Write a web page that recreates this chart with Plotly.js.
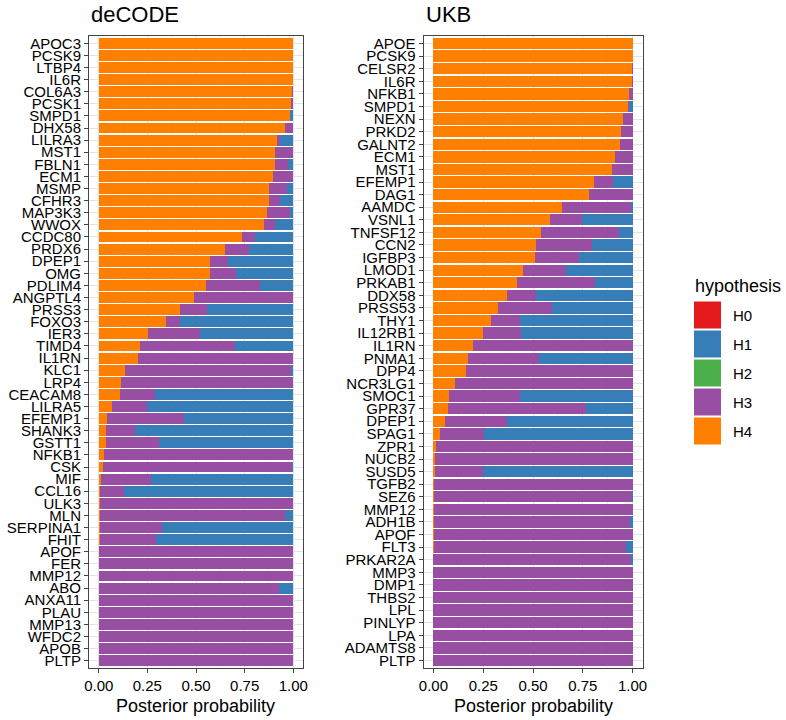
<!DOCTYPE html>
<html>
<head>
<meta charset="utf-8">
<script src="https://cdn.plot.ly/plotly-3.0.1.min.js"></script>
<style>
html,body{margin:0;padding:0;background:#fff;}
#chart{width:786px;height:720px;}
</style>
</head>
<body>
<div id="chart"></div>
<script>
// ---------- DATA ----------
const hypotheses = ["H0", "H1", "H2", "H3", "H4"];
const hypColors = ["#E41A1C", "#377EB8", "#4DAF4A", "#984EA3", "#FF7F00"];

const decodeGenes = ["APOC3","PCSK9","LTBP4","IL6R","COL6A3","PCSK1","SMPD1","DHX58","LILRA3","MST1",
  "FBLN1","ECM1","MSMP","CFHR3","MAP3K3","WWOX","CCDC80","PRDX6","DPEP1","OMG",
  "PDLIM4","ANGPTL4","PRSS3","FOXO3","IER3","TIMD4","IL1RN","KLC1","LRP4","CEACAM8",
  "LILRA5","EFEMP1","SHANK3","GSTT1","NFKB1","CSK","MIF","CCL16","ULK3","MLN",
  "SERPINA1","FHIT","APOF","FER","MMP12","ABO","ANXA11","PLAU","MMP13","WFDC2",
  "APOB","PLTP"];
const decodeH4 = [1.000,1.000,0.999,0.997,0.993,0.990,0.981,0.959,0.918,0.906,
  0.905,0.898,0.876,0.874,0.867,0.849,0.736,0.648,0.574,0.573,
  0.551,0.488,0.418,0.347,0.253,0.213,0.201,0.136,0.116,0.111,
  0.066,0.041,0.037,0.036,0.026,0.020,0.010,0.009,0.007,0.005,
  0.004,0.004,0.001,0.001,0.001,0.000,0.000,0.000,0.000,0.000,
  0.000,0.000];
const decodeH3 = [0.000,0.000,0.001,0.002,0.004,0.007,0.002,0.041,0.015,0.094,
  0.068,0.102,0.094,0.060,0.117,0.058,0.066,0.124,0.088,0.134,
  0.276,0.509,0.138,0.071,0.265,0.488,0.799,0.852,0.884,0.179,
  0.184,0.396,0.150,0.272,0.971,0.975,0.257,0.120,0.990,0.952,
  0.321,0.290,0.999,0.999,0.999,0.925,1.000,1.000,1.000,1.000,
  1.000,1.000];
const decodeH1 = [0.000,0.000,0.000,0.001,0.003,0.003,0.017,0.000,0.067,0.000,
  0.027,0.000,0.030,0.066,0.016,0.093,0.198,0.228,0.338,0.293,
  0.173,0.003,0.444,0.582,0.482,0.299,0.000,0.012,0.000,0.710,
  0.750,0.563,0.813,0.692,0.003,0.005,0.733,0.871,0.003,0.043,
  0.675,0.706,0.000,0.000,0.000,0.075,0.000,0.000,0.000,0.000,
  0.000,0.000];

const ukbGenes = ["APOE","PCSK9","CELSR2","IL6R","NFKB1","SMPD1","NEXN","PRKD2","GALNT2","ECM1",
  "MST1","EFEMP1","DAG1","AAMDC","VSNL1","TNFSF12","CCN2","IGFBP3","LMOD1","PRKAB1",
  "DDX58","PRSS53","THY1","IL12RB1","IL1RN","PNMA1","DPP4","NCR3LG1","SMOC1","GPR37",
  "DPEP1","SPAG1","ZPR1","NUCB2","SUSD5","TGFB2","SEZ6","MMP12","ADH1B","APOF",
  "FLT3","PRKAR2A","MMP3","DMP1","THBS2","LPL","PINLYP","LPA","ADAMTS8","PLTP"];
const ukbH4 = [1.000,1.000,0.997,0.997,0.980,0.978,0.950,0.941,0.936,0.913,
  0.895,0.806,0.779,0.645,0.585,0.542,0.515,0.508,0.450,0.421,
  0.370,0.324,0.289,0.247,0.201,0.172,0.164,0.109,0.077,0.074,
  0.059,0.032,0.015,0.008,0.008,0.003,0.002,0.002,0.001,0.001,
  0.001,0.000,0.000,0.000,0.000,0.000,0.000,0.000,0.000,0.000];
const ukbH3 = [0.000,0.000,0.003,0.003,0.020,0.005,0.050,0.059,0.064,0.087,
  0.105,0.094,0.221,0.345,0.159,0.391,0.283,0.224,0.214,0.390,
  0.147,0.269,0.147,0.191,0.799,0.360,0.836,0.891,0.358,0.692,
  0.308,0.222,0.985,0.992,0.239,0.997,0.993,0.998,0.986,0.999,
  0.964,0.990,1.000,1.000,1.000,1.000,1.000,1.000,1.000,1.000];
const ukbH1 = [0.000,0.000,0.000,0.000,0.000,0.017,0.000,0.000,0.000,0.000,
  0.000,0.100,0.000,0.010,0.256,0.067,0.202,0.268,0.336,0.189,
  0.483,0.407,0.564,0.562,0.000,0.468,0.000,0.000,0.565,0.234,
  0.633,0.746,0.000,0.000,0.753,0.000,0.005,0.000,0.013,0.000,
  0.035,0.010,0.000,0.000,0.000,0.000,0.000,0.000,0.000,0.000];

const xTickVals = [0, 0.25, 0.5, 0.75, 1];
const xTickText = ["0.00", "0.25", "0.50", "0.75", "1.00"];
const panelTitles = ["deCODE", "UKB"];
const xTitle = "Posterior probability";
const legendTitle = "hypothesis";

// ---------- BUILD ----------
const FONT = "Liberation Sans, Arial, Helvetica, sans-serif";
const W = 786, H = 720, MT = 36, MB = 52;
const plotH = H - MT - MB;
function pyToPaper(py){ return (H - MB - py) / plotH; }

function makeTraces(genes, h4, h3, h1, xa, ya){
  const series = [[h4, 4], [h3, 3], [h1, 1]];
  return series.map(([vals, hi]) => ({
    type: "bar", orientation: "h",
    x: vals, y: genes,
    xaxis: xa, yaxis: ya,
    name: hypotheses[hi],
    marker: {color: hypColors[hi], line: {width: 0}},
    showlegend: false,
    hoverinfo: "x+y+name"
  }));
}

const data = [
  ...makeTraces(decodeGenes, decodeH4, decodeH3, decodeH1, "x", "y"),
  ...makeTraces(ukbGenes, ukbH4, ukbH3, ukbH1, "x2", "y2")
];

const gridCol = "#E3E3E3";
const lineCol = "#444444";
function xAxis(domain, anchor){
  return {
    domain: domain, anchor: anchor,
    range: [-0.05, 1.05], fixedrange: true,
    tickmode: "array", tickvals: xTickVals, ticktext: xTickText,
    ticks: "outside", ticklen: 4, tickcolor: lineCol, tickwidth: 1,
    showgrid: true, gridcolor: gridCol, gridwidth: 1,
    minor: {dtick: 0.125, tick0: 0, showgrid: true, gridcolor: "#EEEEEE", gridwidth: 0.8, ticks: ""},
    zeroline: false,
    showline: true, mirror: true, linecolor: lineCol, linewidth: 1,
    tickfont: {family: FONT, size: 15, color: "#000"},
    automargin: false
  };
}
function yAxis(genes, anchor){
  return {
    domain: [0, 1], anchor: anchor,
    type: "category", categoryorder: "array", categoryarray: genes,
    tickmode: "array", tickvals: genes, ticktext: genes,
    range: [genes.length - 1 + 0.6, -0.6], fixedrange: true,
    ticks: "outside", ticklen: 4, tickcolor: lineCol, tickwidth: 1,
    showgrid: true, gridcolor: gridCol, gridwidth: 1,
    zeroline: false,
    showline: true, mirror: true, linecolor: lineCol, linewidth: 1,
    tickfont: {family: FONT, size: 15, color: "#000"},
    automargin: false
  };
}

const dom1 = [89 / W, 303 / W];
const dom2 = [423.5 / W, 642.5 / W];

const annotations = [];
[[dom1, panelTitles[0]], [dom2, panelTitles[1]]].forEach(([d, t]) => {
  annotations.push({xref: "paper", yref: "paper", x: d[0], y: 1, xanchor: "left", yanchor: "middle",
    yshift: 22, text: t, showarrow: false, font: {family: FONT, size: 22, color: "#000"}});
  annotations.push({xref: "paper", yref: "paper", x: (d[0] + d[1]) / 2, y: 0, xanchor: "center", yanchor: "middle",
    yshift: -38, text: xTitle, showarrow: false, font: {family: FONT, size: 18, color: "#000"}});
});

// manual legend (large swatches like ggplot)
const shapes = [];
annotations.push({xref: "paper", yref: "paper", x: 693 / W, y: pyToPaper(286), xanchor: "left", yanchor: "middle",
  text: legendTitle, showarrow: false, font: {family: FONT, size: 18, color: "#000"}});
hypotheses.forEach((h, i) => {
  const cy = 315 + i * 29;
  shapes.push({type: "rect", xref: "paper", yref: "paper",
    x0: 694 / W, x1: 721 / W, y0: pyToPaper(cy - 13.5), y1: pyToPaper(cy + 13.5),
    fillcolor: hypColors[i], line: {width: 0}});
  annotations.push({xref: "paper", yref: "paper", x: 731 / W, y: pyToPaper(cy), xanchor: "left", yanchor: "middle",
    text: h, showarrow: false, font: {family: FONT, size: 15, color: "#000"}});
});

const layout = {
  width: W, height: H,
  margin: {l: 0, r: 0, t: MT, b: MB, pad: 0},
  paper_bgcolor: "#fff", plot_bgcolor: "#fff",
  barmode: "stack", bargap: 0.1,
  showlegend: false,
  xaxis: xAxis(dom1, "y"),
  yaxis: yAxis(decodeGenes, "x"),
  xaxis2: xAxis(dom2, "y2"),
  yaxis2: yAxis(ukbGenes, "x2"),
  annotations: annotations,
  shapes: shapes,
  font: {family: FONT}
};

Plotly.newPlot("chart", data, layout, {displayModeBar: false, staticPlot: true});
</script>
</body>
</html>
